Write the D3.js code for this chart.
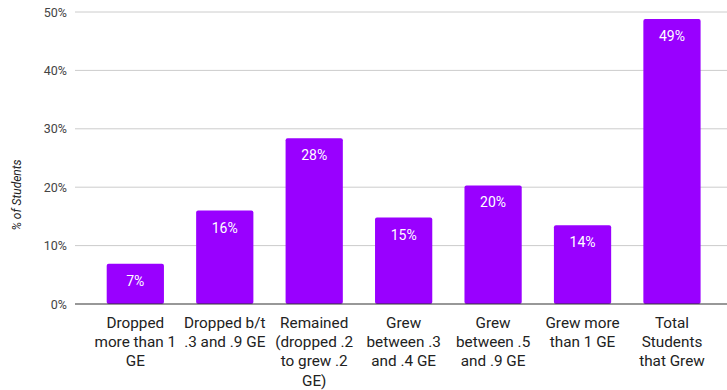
<!DOCTYPE html>
<html>
<head>
<meta charset="utf-8">
<script src="https://cdn.jsdelivr.net/npm/d3@7"></script>
<style>
  html, body { margin: 0; padding: 0; background: #fff; }
  svg { display: block; font-family: Roboto, "Noto Sans", sans-serif; }
</style>
</head>
<body>
<svg id="chart" width="727" height="390"></svg>
<script>
// Growth categories (x-axis labels, one line per array entry)
const categories = [
  ["Dropped", "more than 1", "GE"],
  ["Dropped b/t", ".3 and .9 GE"],
  ["Remained", "(dropped .2", "to grew .2", "GE)"],
  ["Grew", "between .3", "and .4 GE"],
  ["Grew", "between .5", "and .9 GE"],
  ["Grew more", "than 1 GE"],
  ["Total", "Students", "that Grew"]
];
// Percent of students in each category
const values = [6.9, 16.0, 28.4, 14.8, 20.3, 13.5, 48.8];
// Y-axis ticks
const yTicks = [0, 10, 20, 30, 40, 50];
const yTitle = "% of Students";

const svg = d3.select("#chart");
const plotLeft = 75, plotRight = 727, plotTop = 12, plotBottom = 304;

const x = d3.scaleBand()
  .domain(d3.range(categories.length))
  .range([90.6, 716.7])
  .paddingInner(0.36)
  .paddingOuter(0.18);

const y = d3.scaleLinear().domain([0, 50]).range([plotBottom, plotTop]);

// Gridlines
svg.append("g")
  .selectAll("line")
  .data(yTicks.filter(d => d !== 0))
  .join("line")
  .attr("x1", plotLeft).attr("x2", plotRight)
  .attr("y1", d => y(d)).attr("y2", d => y(d))
  .attr("stroke", "#cccccc").attr("stroke-width", 1);

// Y tick labels
const yAxis = d3.axisLeft(y).tickValues(yTicks).tickFormat(d => d + "%").tickSize(0).tickPadding(0);
const gy = svg.append("g").attr("transform", `translate(67,0)`).call(yAxis);
gy.select(".domain").remove();
gy.selectAll("text")
  .attr("fill", "#444").attr("font-size", 12.5)
  .attr("font-family", "Roboto, sans-serif");

// Y axis title
svg.append("text")
  .attr("transform", `translate(21,195) rotate(-90)`)
  .attr("text-anchor", "middle")
  .attr("font-style", "italic")
  .attr("font-size", 12)
  .attr("fill", "#222")
  .text(yTitle);

// Bars
svg.append("g")
  .selectAll("rect")
  .data(values)
  .join("rect")
  .attr("x", (d, i) => x(i))
  .attr("width", x.bandwidth())
  .attr("y", d => y(d))
  .attr("height", d => y(0) - y(d))
  .attr("rx", 2)
  .attr("fill", "#9900ff");

// Value labels inside bars
svg.append("g")
  .selectAll("text")
  .data(values)
  .join("text")
  .attr("x", (d, i) => x(i) + x.bandwidth() / 2)
  .attr("y", d => y(d) + 22)
  .attr("text-anchor", "middle")
  .attr("font-size", 14)
  .attr("fill", "#ffffff")
  .text(d => d3.format(".0f")(d) + "%");

// Baseline
svg.append("line")
  .attr("x1", plotLeft).attr("x2", plotRight)
  .attr("y1", y(0)).attr("y2", y(0))
  .attr("stroke", "#333").attr("stroke-width", 1.2);

// Category labels
const xl = svg.append("g")
  .selectAll("text")
  .data(categories)
  .join("text")
  .attr("x", (d, i) => x(i) + x.bandwidth() / 2)
  .attr("y", 328)
  .attr("text-anchor", "middle")
  .attr("font-size", 15.3)
  .attr("fill", "#222");
xl.selectAll("tspan")
  .data(d => d)
  .join("tspan")
  .attr("x", function () { return d3.select(this.parentNode).attr("x"); })
  .attr("dy", (d, i) => i === 0 ? 0 : 19.2)
  .text(d => d);
</script>
</body>
</html>
